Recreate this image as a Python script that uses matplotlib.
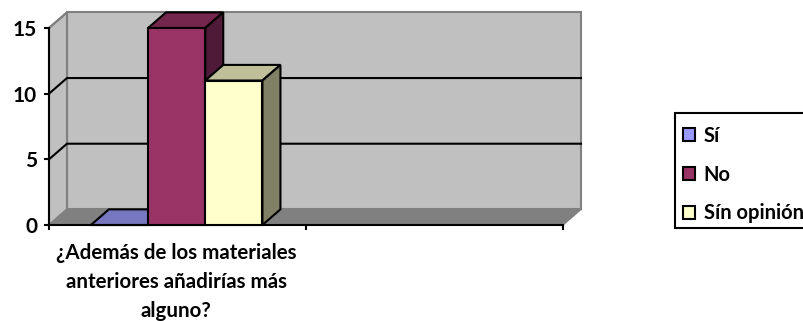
import matplotlib
matplotlib.use('Agg')
import matplotlib.pyplot as plt
from matplotlib.patches import Polygon, Rectangle

plt.rcParams['font.family'] = ['Lato', 'DejaVu Sans']
plt.rcParams['font.weight'] = 'bold'

#Values
series_names = ['Sí', 'No', 'Sín opinión']
series_values = [0, 15, 11]
face_colors = ['#9999ff', '#993366', '#ffffcc']
top_colors = ['#7777c0', '#74264d', '#bfbf99']
side_colors = ['#5c5c99', '#4f1a38', '#808066']
y_ticks = [0, 5, 10, 15]
x_label = '¿Además de los materiales\nanteriores añadirías más\nalguno?'

W, H = 804, 321
fig = plt.figure(figsize=(W/100, H/100), dpi=100)
#axes front plane in pixels: x 49-563, y 28-225
ax = fig.add_axes([49/W, 1-225/H, (563-49)/W, (225-28)/H])
ax.set_xlim(0, 2)
ax.set_ylim(0, 15)

dx = 18/257.0 #depth of the 3d box in x units
dy = 1.19 #depth in y units
bar_w = 0.2225
bar_start = 0.163

#walls and floor
ax.add_patch(Polygon([(dx, dy), (2+dx, dy), (2+dx, 15+dy), (dx, 15+dy)], fc='#c0c0c0', ec='#808080', lw=1.5, zorder=1, clip_on=False))
ax.add_patch(Polygon([(0, 0), (dx, dy), (dx, 15+dy), (0, 15)], fc='#c0c0c0', ec='#808080', lw=1.5, zorder=1, clip_on=False))
ax.add_patch(Polygon([(0, 0), (2, 0), (2+dx, dy), (dx, dy)], fc='#808080', ec='#808080', lw=1, zorder=1.5, clip_on=False))

#gridlines run along the side wall and then the back wall
for t in y_ticks[1:3]:
    ax.plot([0, dx, 2+dx], [t, t+dy, t+dy], color='black', lw=1.5, zorder=2, clip_on=False)
ax.plot([0, dx], [15, 15+dy], color='#808080', lw=1.5, zorder=2, clip_on=False)

#bars, front face plus top and side faces
for i in range(3):
    x0 = bar_start + i*bar_w
    v = series_values[i]
    ax.bar(x0, v, bar_w, align='edge', color=face_colors[i], edgecolor='black', lw=1.5, zorder=5+i, label=series_names[i], clip_on=False)
    ax.add_patch(Polygon([(x0, v), (x0+bar_w, v), (x0+bar_w+dx, v+dy), (x0+dx, v+dy)], fc=top_colors[i], ec='black', lw=1.5, zorder=4+i, clip_on=False))
    ax.add_patch(Polygon([(x0+bar_w, 0), (x0+bar_w+dx, dy), (x0+bar_w+dx, v+dy), (x0+bar_w, v)], fc=side_colors[i], ec='black', lw=1.5, zorder=4+i, clip_on=False))

for s in ['top', 'right']:
    ax.spines[s].set_visible(False)
for s in ['left', 'bottom']:
    ax.spines[s].set_linewidth(1.5)
    ax.spines[s].set_zorder(3)

ax.set_yticks(y_ticks)
ax.tick_params(axis='y', length=3.5, width=1.5, labelsize=15, pad=5)
ax.set_xticks([0, 1, 2])
ax.set_xticklabels([])
ax.tick_params(axis='x', length=3.5, width=1.5)
ax.set_xticks([0.495], minor=True)
ax.set_xticklabels([x_label], minor=True, fontsize=14.8, linespacing=1.55)
ax.tick_params(axis='x', which='minor', length=0, pad=13)

#legend box runs off the right edge of the picture
fig.add_artist(Rectangle((675/W, 1-228/H), 200/W, 115/H, transform=fig.transFigure, fc='white', ec='black', lw=1.5, zorder=-1))
leg = ax.legend(loc='upper left', bbox_to_anchor=(683/W, 1-126/H), bbox_transform=fig.transFigure,
                borderaxespad=0, fontsize=14.5, handlelength=0.62, handleheight=0.62, handletextpad=0.4,
                labelspacing=0.93, borderpad=0, frameon=False)

fig.savefig('out.png', dpi=100)
